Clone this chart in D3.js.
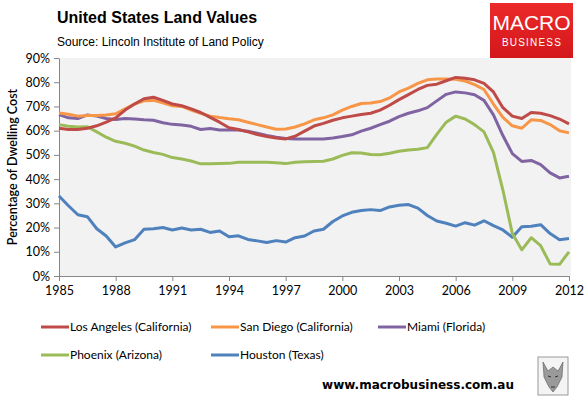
<!DOCTYPE html>
<html>
<head>
<meta charset="utf-8">
<script src="https://cdn.jsdelivr.net/npm/d3@7"></script>
<style>
  body { margin: 0; background: #fff; }
  svg { display: block; }
</style>
</head>
<body>
<div id="chart"></div>
<script>
const periods = [
  1985, 1985.5, 1986, 1986.5, 1987, 1987.5, 1988, 1988.5, 1989, 1989.5,
  1990, 1990.5, 1991, 1991.5, 1992, 1992.5, 1993, 1993.5, 1994, 1994.5,
  1995, 1995.5, 1996, 1996.5, 1997, 1997.5, 1998, 1998.5, 1999, 1999.5,
  2000, 2000.5, 2001, 2001.5, 2002, 2002.5, 2003, 2003.5, 2004, 2004.5,
  2005, 2005.5, 2006, 2006.5, 2007, 2007.5, 2008, 2008.5, 2009, 2009.5,
  2010, 2010.5, 2011, 2011.5, 2012
];

const losAngeles = [
  61, 60.5, 60.5, 61, 62, 63.5, 65.3, 68.5, 71, 73.2,
  73.8, 72.5, 71, 70.3, 69, 67.5, 65.5, 63.5, 61.2, 60.5,
  59.5, 58.4, 57.6, 57, 56.6, 57.7, 59.8, 61.9, 63, 64.3,
  65.3, 66, 66.7, 67.2, 68.5, 70.5, 72.8, 74.9, 77, 78.7,
  79.2, 80.6, 82, 81.6, 81, 79.5, 76, 69.5, 66, 65,
  67.5, 67.2, 66.2, 64.8, 62.8
];
const sanDiego = [
  67.3, 66.8, 66, 66.3, 66.3, 66.5, 67, 69, 71, 72.3,
  72.5, 71.5, 70.3, 70, 68.5, 67.2, 66, 65.4, 64.9, 64.5,
  63.5, 62.5, 61.5, 60.6, 60.7, 61.5, 62.8, 64.5, 65.3, 66.5,
  68.5, 70, 71.2, 71.4, 72, 73.5, 76, 77.6, 79.5, 81,
  81.3, 81.3, 81.2, 80.5, 79, 77, 71, 65.5, 62, 61,
  64.5, 64.2, 62.5, 60, 59.1
];
const miami = [
  66.6, 65.3, 65, 66.5, 66, 65, 64.6, 65, 64.8, 64.5,
  64.3, 63.3, 62.6, 62.3, 61.8, 60.5, 60.9, 60.3, 60.3, 60.3,
  59.8, 58.9, 58, 57.3, 56.8, 56.6, 56.6, 56.6, 56.6, 57,
  57.6, 58.3, 59.8, 61, 62.5, 63.9, 65.8, 67.2, 68.2, 69.5,
  72.3, 75, 76, 75.6, 74.8, 72.5, 66.5, 58, 50.5, 47.3,
  47.7, 46, 42.6, 40.5, 41.2
];
const phoenix = [
  62.5, 61.8, 61.5, 61.6, 59.5, 57.3, 55.6, 54.8, 53.6, 52,
  51, 50.2, 48.9, 48.3, 47.5, 46.3, 46.3, 46.4, 46.5, 47,
  47, 47, 47, 46.8, 46.4, 47, 47.2, 47.3, 47.4, 48.3,
  49.8, 50.9, 50.8, 50.2, 50.1, 50.7, 51.5, 52, 52.3, 53,
  58.5, 63.5, 66, 64.8, 62.5, 59.5, 51, 35.5, 17.5, 10.8,
  15.8, 12.5, 5, 4.8, 10
];
const houston = [
  33, 29, 25.3, 24.5, 19.5, 16.5, 12, 13.7, 15, 19.3,
  19.5, 20, 19, 19.8, 19, 19.3, 18, 18.6, 16.2, 16.6,
  15.1, 14.5, 13.8, 14.6, 14, 15.8, 16.5, 18.6, 19.3, 22.5,
  24.8, 26.3, 27, 27.4, 27, 28.5, 29.2, 29.5, 28, 25,
  22.7, 21.8, 20.6, 22, 21, 22.8, 20.8, 19, 16, 20.3,
  20.5, 21.2, 17.5, 15, 15.5
];

const seriesNames = [
  "Los Angeles (California)", "San Diego (California)", "Miami (Florida)",
  "Phoenix (Arizona)", "Houston (Texas)"
];
const seriesValues = [losAngeles, sanDiego, miami, phoenix, houston];
const seriesColors = ["#be4b48", "#f79646", "#8064a2", "#9bbb59", "#4f81bd"];

const yearTicks = [1985, 1988, 1991, 1994, 1997, 2000, 2003, 2006, 2009, 2012];
const pctTicks = [0, 10, 20, 30, 40, 50, 60, 70, 80, 90];

const W = 588, H = 398;
const margin = {top: 58, right: 17, bottom: 122, left: 59};
const chartFont = "Lato, 'Open Sans', sans-serif";

const svg = d3.select("#chart").append("svg")
    .attr("width", W)
    .attr("height", H);

// titles
svg.append("text")
    .attr("x", 57).attr("y", 23)
    .style("font", "bold 16px 'Liberation Sans', Arial, sans-serif")
    .style("fill", "#000")
    .text("United States Land Values");

svg.append("text")
    .attr("x", 57).attr("y", 46)
    .style("font", "12px 'Liberation Sans', Arial, sans-serif")
    .style("fill", "#000")
    .text("Source: Lincoln Institute of Land Policy");

// MacroBusiness badge
const grad = svg.append("defs").append("linearGradient")
    .attr("id", "badge").attr("x1", 0).attr("y1", 0).attr("x2", 0).attr("y2", 1);
grad.append("stop").attr("offset", "0%").attr("stop-color", "#ec2a2a");
grad.append("stop").attr("offset", "100%").attr("stop-color", "#d3171b");

svg.append("rect")
    .attr("x", 490).attr("y", 3).attr("width", 83).attr("height", 55)
    .attr("fill", "url(#badge)");
svg.append("text")
    .attr("x", 531.5).attr("y", 30)
    .attr("text-anchor", "middle")
    .style("font", "300 21px 'Liberation Sans Narrow', 'Liberation Sans', sans-serif")
    .style("fill", "#fff")
    .text("MACRO");
svg.append("text")
    .attr("x", 532).attr("y", 46)
    .attr("text-anchor", "middle")
    .style("font", "10px 'Liberation Sans', sans-serif")
    .style("letter-spacing", "1.2px")
    .style("fill", "#fff")
    .text("BUSINESS");

// plot
const x = d3.scaleLinear()
    .domain([1985, 2012])
    .range([margin.left, W - margin.right - 2]);
const y = d3.scaleLinear()
    .domain([0, 90])
    .range([H - margin.bottom, margin.top]);

svg.append("rect")
    .attr("x", margin.left).attr("y", margin.top)
    .attr("width", W - margin.right - margin.left)
    .attr("height", H - margin.bottom - margin.top)
    .attr("fill", "#f2f2f2");

const yAxis = svg.append("g")
    .attr("transform", `translate(${margin.left},0)`)
    .call(d3.axisLeft(y).tickValues(pctTicks).tickFormat(d => d + "%").tickSize(5).tickSizeOuter(0));

const xAxis = svg.append("g")
    .attr("transform", `translate(0,${H - margin.bottom})`)
    .call(d3.axisBottom(x).tickValues(yearTicks).tickFormat(d3.format("d")).tickSize(5).tickSizeOuter(0));

[xAxis, yAxis].forEach(a => {
    a.selectAll("path, line").attr("stroke", "#868686");
    a.selectAll("text")
        .style("font", "12.5px " + chartFont)
        .style("fill", "#000");
});
yAxis.selectAll("text").attr("x", -9);
xAxis.selectAll("text").attr("y", 10);

svg.append("text")
    .attr("transform", `translate(17,${(margin.top + H - margin.bottom) / 2}) rotate(-90)`)
    .attr("text-anchor", "middle")
    .style("font", "600 12.5px " + chartFont)
    .style("fill", "#000")
    .text("Percentage of Dwelling Cost");

const line = d3.line()
    .x((d, i) => x(periods[i]))
    .y(d => y(d));

// draw in reverse so Los Angeles sits on top
for (let s = seriesValues.length - 1; s >= 0; s--) {
    svg.append("path")
        .datum(seriesValues[s])
        .attr("fill", "none")
        .attr("stroke", seriesColors[s])
        .attr("stroke-width", 3)
        .attr("stroke-linejoin", "round")
        .attr("d", line);
}

// legend
const legendCols = [41, 211, 378];
const legendRows = [327, 355];
const legend = svg.append("g");
seriesNames.forEach((name, i) => {
    const lx = legendCols[i % 3], ly = legendRows[Math.floor(i / 3)];
    legend.append("line")
        .attr("x1", lx).attr("x2", lx + 28)
        .attr("y1", ly).attr("y2", ly)
        .attr("stroke", seriesColors[i])
        .attr("stroke-width", 3);
    legend.append("text")
        .attr("x", lx + 29).attr("y", ly + 4)
        .style("font", "12px " + chartFont)
        .style("fill", "#000")
        .text(name);
});

// footer
svg.append("text")
    .attr("x", 514).attr("y", 389)
    .attr("text-anchor", "end")
    .style("font", "bold 12px 'DejaVu Sans', Verdana, sans-serif")
    .style("fill", "#000")
    .text("www.macrobusiness.com.au");

// little wolf badge
const wolf = svg.append("g").attr("transform", "translate(538,357)");
wolf.append("rect")
    .attr("width", 30).attr("height", 38)
    .attr("fill", "#f4f4f4").attr("stroke", "#9a9a9a");
wolf.append("path")
    .attr("d", "M5,5 L10,14 L15,10 L20,14 L25,5 L24,20 L19,30 L15,35 L11,30 L6,20 Z")
    .attr("fill", "#9a9a9a").attr("stroke", "#555").attr("stroke-width", 0.6);
wolf.append("path")
    .attr("d", "M10,19 L13,20 M17,20 L20,19 M13,30 L17,30")
    .attr("stroke", "#333").attr("stroke-width", 1);
</script>
</body>
</html>
